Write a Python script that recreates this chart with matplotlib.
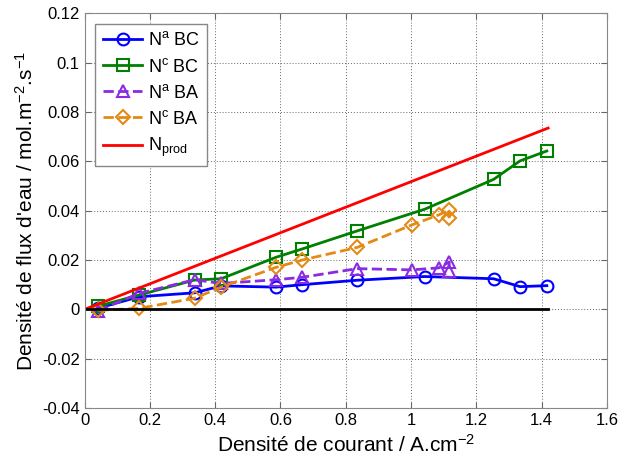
import matplotlib.pyplot as plt

plt.rcParams["font.family"] = ["Liberation Sans", "DejaVu Sans"]
plt.rcParams["mathtext.fontset"] = "custom"
plt.rcParams["mathtext.rm"] = "Liberation Sans"
plt.rcParams["mathtext.it"] = "Liberation Sans"

# current density (A/cm2)
x_bc = [0.042, 0.167, 0.337, 0.418, 0.586, 0.667, 0.835, 1.042, 1.253, 1.334, 1.416]
na_bc = [0.0005, 0.0051, 0.0067, 0.0095, 0.0090, 0.0100, 0.0118, 0.0133, 0.0124, 0.0092, 0.0096]
nc_bc = [0.0013, 0.0058, 0.0119, 0.0124, 0.0211, 0.0245, 0.0318, 0.0406, 0.0527, 0.0602, 0.0642]

x_ba = [0.042, 0.167, 0.337, 0.418, 0.586, 0.667, 0.835, 1.002, 1.085, 1.117, 1.117]
na_ba = [-0.0005, 0.0065, 0.0120, 0.0105, 0.0120, 0.0130, 0.0165, 0.0160, 0.0168, 0.0192, 0.0155]
nc_ba = [-0.0004, 0.0004, 0.0045, 0.0090, 0.0170, 0.0200, 0.0251, 0.0342, 0.0383, 0.0403, 0.0370]

x_prod = [0.0, 1.42]
n_prod = [0.0, 0.0735]

x_zero = [0.0, 1.42]
y_zero = [0.0, 0.0]

fig = plt.figure(figsize=(6.18, 4.61), dpi=100)
ax = fig.add_axes([0.137, 0.115, 0.845, 0.856])

mk = dict(markerfacecolor="none", markersize=8.5, markeredgewidth=1.5, linewidth=2)
ax.plot(x_bc, na_bc, "-o", color="#0000FF", label="N$^a$ BC", **mk)
ax.plot(x_bc, nc_bc, "-s", color="#008000", label="N$^c$ BC", **mk)
ax.plot(x_ba, na_ba, "--^", color="#8A2BE2", label="N$^a$ BA", **mk)
ax.plot(x_ba, nc_ba, "--D", color="#E38A14", label="N$^c$ BA",
        markerfacecolor="none", markersize=7.5, markeredgewidth=1.5, linewidth=2)
ax.plot(x_prod, n_prod, "-", color="#FF0000", linewidth=2, label="N$_{prod}$")
ax.plot(x_zero, y_zero, "-", color="black", linewidth=2)

ax.set_xlim(0, 1.6)
ax.set_ylim(-0.04, 0.12)
ax.set_xticks([0, 0.2, 0.4, 0.6, 0.8, 1, 1.2, 1.4, 1.6])
ax.set_xticklabels(["0", "0.2", "0.4", "0.6", "0.8", "1", "1.2", "1.4", "1.6"])
ax.set_yticks([-0.04, -0.02, 0, 0.02, 0.04, 0.06, 0.08, 0.1, 0.12])
ax.set_yticklabels(["-0.04", "-0.02", "0", "0.02", "0.04", "0.06", "0.08", "0.1", "0.12"])
ax.grid(True, linestyle=(0, (1, 2)), color="#666666", linewidth=0.7)
ax.tick_params(direction="in", top=True, right=True, length=4, color="#666666", labelsize=12)
for s in ax.spines.values():
    s.set_color("#888888")

ax.set_xlabel("Densité de courant / A.cm$^{-2}$", fontsize=15)
ax.set_ylabel("Densité de flux d'eau / mol.m$^{-2}$.s$^{-1}$", fontsize=15)

leg = ax.legend(loc="upper left", fontsize=13, fancybox=False, framealpha=1,
                handlelength=2.2, borderpad=0.4, labelspacing=0.45, handletextpad=0.3,
                borderaxespad=0.6)
leg.get_frame().set_edgecolor("#888888")

fig.savefig("out.png", dpi=100)
